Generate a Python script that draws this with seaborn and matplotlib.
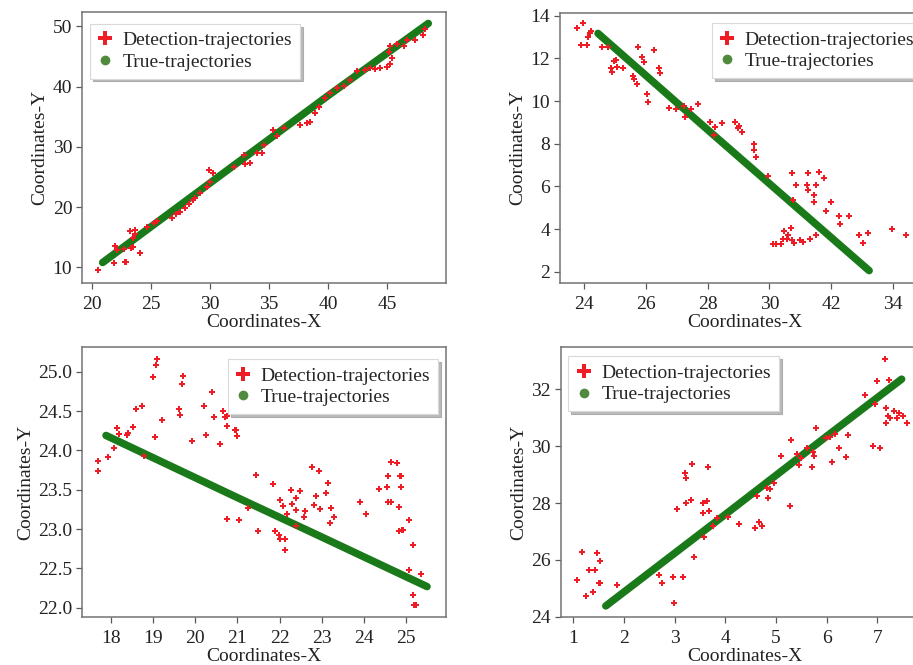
import numpy as np
import pandas as pd
import matplotlib
matplotlib.use("Agg")
import matplotlib.pyplot as plt
from matplotlib.lines import Line2D
import seaborn as sns

# ---------------- data ----------------
# Panel A (top-left)
a_det_x = [20.51, 21.84, 21.98, 22.12, 22.68, 22.77, 22.91, 23.25, 23.31, 23.48, 23.62, 23.67, 23.48, 24.04,
           24.66, 25.23, 25.51, 26.78, 27.15, 27.49, 27.85, 28.19, 28.56, 28.76, 29.18, 29.75, 29.89, 30.03,
           30.25, 32.01, 32.92, 33.00, 33.37, 33.98, 34.41, 34.55, 35.34, 35.68, 36.24, 37.66, 38.22, 38.50,
           38.93, 39.21, 39.77, 40.20, 40.76, 41.33, 41.89, 42.46, 43.16, 43.59, 44.01, 44.44, 45.00, 45.28,
           45.42, 45.14, 45.28, 45.85, 46.47, 46.69, 47.40, 48.05, 48.25]
a_det_y = [9.56, 10.67, 13.55, 12.88, 12.99, 10.94, 10.83, 16.04, 13.16, 14.82, 16.21, 15.48, 13.32, 12.33,
           16.76, 17.42, 17.70, 18.14, 18.81, 19.25, 19.81, 20.53, 21.19, 21.58, 22.30, 23.41, 26.18, 24.24,
           25.62, 26.73, 28.67, 27.18, 27.29, 28.95, 28.95, 30.33, 32.83, 31.83, 33.10, 33.60, 34.04, 34.21,
           35.60, 36.70, 38.09, 38.92, 39.75, 40.14, 41.14, 42.52, 42.80, 43.07, 42.91, 43.07, 43.35, 43.80,
           44.74, 45.84, 46.68, 47.12, 46.68, 47.67, 47.78, 48.61, 49.56]
a_true_x = [20.9, 30.0, 40.0, 48.5]
a_true_y = [10.8, 24.0, 38.5, 50.5]

# Panel B (top-right)
b_det_x = [23.76, 23.98, 23.89, 24.09, 24.12, 24.19, 24.23, 24.57, 24.78, 24.86, 24.91, 24.97, 25.03, 25.05,
           25.25, 25.57, 25.62, 25.70, 25.76, 25.86, 25.95, 26.03, 26.06, 26.27, 26.41, 26.46, 26.76, 26.97,
           27.23, 27.27, 27.46, 27.70, 28.07, 28.24, 28.20, 28.45, 28.88, 28.99, 29.02, 29.11, 29.50, 29.50,
           29.56, 29.96, 30.12, 30.21, 30.37, 30.44, 30.47, 30.58, 30.60, 30.70, 30.72, 30.74, 30.77, 30.80,
           30.85, 30.98, 31.09, 31.25, 31.23, 31.25, 31.33, 31.43, 31.46, 31.52, 31.50, 31.61, 31.77, 31.84,
           31.98, 32.25, 32.28, 32.58, 32.90, 33.03, 33.19, 33.98, 34.43]
b_det_y = [13.41, 13.67, 12.63, 12.63, 12.98, 13.17, 13.28, 12.55, 12.55, 11.56, 11.34, 11.88, 11.92, 11.61,
           11.56, 11.17, 11.03, 10.78, 12.55, 12.05, 11.84, 10.33, 9.97, 12.39, 11.53, 11.30, 9.69, 9.63,
           9.77, 9.27, 9.63, 9.86, 9.03, 8.80, 8.41, 8.98, 9.03, 8.72, 8.84, 8.56, 7.98, 7.70,
           7.39, 6.50, 3.28, 3.28, 3.28, 3.52, 3.91, 3.52, 3.72, 4.03, 3.48, 6.61, 5.36, 3.33,
           6.06, 3.48, 3.41, 6.64, 6.06, 5.83, 3.52, 5.59, 5.28, 6.06, 3.72, 6.66, 6.38, 4.84,
           5.25, 4.63, 4.23, 4.63, 3.72, 3.36, 3.80, 4.00, 3.72]
b_true_x = [24.45, 28.2, 33.23]
b_true_y = [13.17, 8.40, 2.05]
b_xticks = [24, 26, 28, 30, 32, 34]
b_xticklabels = ["24", "26", "28", "30", "42", "34"]

# Panel C (bottom-left)
c_det_x = [17.68, 17.70, 17.92, 18.08, 18.15, 18.20, 18.37, 18.41, 18.53, 18.59, 18.73, 18.77, 18.99, 19.05,
           19.07, 19.08, 19.20, 19.61, 19.64, 19.68, 19.71, 19.92, 20.20, 20.25, 20.39, 20.44, 20.58, 20.65,
           20.71, 20.76, 20.76, 20.76, 20.93, 20.97, 21.00, 21.03, 21.24, 21.43, 21.48, 21.84, 21.90, 22.01,
           21.99, 22.01, 22.07, 22.13, 22.13, 22.17, 22.26, 22.30, 22.38, 22.39, 22.40, 22.49, 22.57, 22.61,
           22.76, 22.82, 22.87, 22.93, 22.97, 23.10, 23.14, 23.20, 23.22, 23.30, 23.92, 24.06, 24.35, 24.56,
           24.57, 24.58, 24.64, 24.65, 24.78, 24.83, 24.84, 24.85, 24.87, 24.88, 24.90, 24.94, 25.07, 25.08,
           25.16, 25.17, 25.18, 25.23, 25.36]
c_det_y = [23.74, 23.87, 23.92, 24.03, 24.29, 24.21, 24.20, 24.22, 24.30, 24.52, 24.57, 23.93, 24.93, 24.17,
           25.09, 25.16, 24.39, 24.53, 24.45, 24.84, 24.94, 24.12, 24.56, 24.19, 24.74, 24.42, 24.08, 24.50,
           24.42, 24.44, 24.31, 23.13, 24.26, 24.26, 24.18, 23.12, 23.27, 23.69, 22.97, 23.57, 22.97, 23.37,
           22.92, 22.87, 23.30, 22.87, 22.73, 23.19, 23.50, 23.32, 23.40, 23.24, 23.04, 23.48, 23.16, 23.23,
           23.79, 23.31, 23.42, 23.74, 23.25, 23.46, 23.59, 23.08, 23.27, 23.16, 23.34, 23.19, 23.51, 23.54,
           23.35, 23.67, 23.35, 23.85, 23.84, 23.28, 22.98, 23.67, 23.54, 23.67, 22.99, 22.99, 23.11, 22.48,
           22.80, 22.16, 22.03, 22.03, 22.43]
c_true_x = [17.88, 21.0, 23.0, 25.50]
c_true_y = [24.19, 23.40, 22.90, 22.27]

# Panel D (bottom-right)
d_det_x = [1.08, 1.18, 1.25, 1.30, 1.39, 1.42, 1.46, 1.50, 1.53, 1.53, 1.86, 2.69, 2.74, 2.97, 2.99, 3.05,
           3.16, 3.20, 3.22, 3.22, 3.32, 3.34, 3.38, 3.55, 3.55, 3.57, 3.63, 3.65, 3.68, 3.76, 3.84, 4.06,
           4.26, 4.59, 4.63, 4.67, 4.73, 4.82, 4.84, 4.88, 4.97, 5.09, 5.28, 5.30, 5.41, 5.45, 5.49, 5.61,
           5.71, 5.74, 5.75, 5.79, 5.99, 6.07, 6.11, 6.17, 6.24, 6.38, 6.43, 6.76, 6.92, 6.95, 7.00, 7.05,
           7.16, 7.17, 7.18, 7.22, 7.24, 7.26, 7.33, 7.38, 7.43, 7.51, 7.58]
d_det_y = [25.30, 26.28, 24.74, 25.64, 24.87, 25.64, 26.25, 25.20, 25.97, 25.18, 25.11, 25.47, 25.20, 25.40,
           24.47, 27.79, 25.40, 29.04, 28.89, 27.99, 28.11, 29.36, 26.10, 27.99, 27.66, 26.82, 28.07, 29.28,
           27.72, 27.19, 27.48, 27.50, 27.25, 27.13, 28.25, 27.35, 27.21, 28.52, 28.19, 28.51, 28.71, 29.67,
           27.91, 30.21, 29.72, 29.34, 29.60, 29.92, 29.28, 29.80, 29.65, 30.63, 30.28, 30.31, 29.44, 30.43,
           29.92, 29.63, 30.38, 31.79, 30.01, 31.48, 32.29, 29.92, 33.07, 31.35, 30.80, 31.06, 32.33, 30.98,
           31.25, 30.99, 31.18, 31.06, 30.80]
d_true_x = [1.64, 4.0, 6.0, 7.48]
d_true_y = [24.38, 27.6, 30.35, 32.36]

# ---------------- style ----------------
sns.set_theme(style="ticks")
plt.rcParams["font.family"] = ["Liberation Serif", "DejaVu Serif"]

DET_COLOR = "#ee1c25"
TRUE_COLOR = "#1a7a1a"
LEG_TRUE = "#4f8a3f"
FS = 14

W, H = 913, 665
fig = plt.figure(figsize=(W / 100, H / 100), dpi=100)


def add_axes(left_px, top_px, right_px, bottom_px):
    return fig.add_axes([left_px / W, 1 - bottom_px / H, (right_px - left_px) / W, (bottom_px - top_px) / H])


panels = [
    (a_det_x, a_det_y, a_true_x, a_true_y, (82, 12, 446, 283), (19.15, 50.0), (7.4, 52.4),
     [20, 25, 30, 35, 40, 45], [10, 20, 30, 40, 50], "upper left", (0.0, 0.985)),
    (b_det_x, b_det_y, b_true_x, b_true_y, (560, 12.7, 930, 283), (23.22, 35.2), (1.47, 14.14),
     b_xticks, [2, 4, 6, 8, 10, 12, 14], "upper right", (1.0, 0.99)),
    (c_det_x, c_det_y, c_true_x, c_true_y, (82, 347.3, 446, 617.3), (17.31, 25.95), (21.88, 25.31),
     [18, 19, 20, 21, 22, 23, 24, 25], [22.0, 22.5, 23.0, 23.5, 24.0, 24.5, 25.0], "upper right", (1.0, 0.985)),
    (d_det_x, d_det_y, d_true_x, d_true_y, (560.7, 347.3, 930, 617.3), (0.75, 8.04), (23.98, 33.48),
     [1, 2, 3, 4, 5, 6, 7], [24, 26, 28, 30, 32], "upper left", (0.0, 0.995)),
]

for i, (dx, dy, tx, ty, box, xl, yl, xt, yt, loc, anchor) in enumerate(panels):
    ax = add_axes(*box)
    det = pd.DataFrame({"x": dx, "y": dy})
    tru = pd.DataFrame({"x": tx, "y": ty})
    sns.lineplot(data=tru, x="x", y="y", ax=ax, color=TRUE_COLOR, linewidth=5.4,
                 solid_capstyle="round", legend=False, zorder=2)
    sns.scatterplot(data=det, x="x", y="y", ax=ax, color=DET_COLOR, marker="P", s=15,
                    linewidth=0, legend=False, zorder=3)
    ax.set_xlim(*xl)
    ax.set_ylim(*yl)
    ax.set_xticks(xt)
    ax.set_yticks(yt)
    if i == 1:
        ax.set_xticklabels(b_xticklabels)
    elif i == 2:
        ax.set_yticklabels([f"{v:.1f}" for v in yt])
    ax.tick_params(axis="x", pad=5)
    ax.tick_params(axis="y", pad=3)
    ax.tick_params(axis="both", labelsize=FS, direction="out", length=4, width=0.9,
                   color="0.35", labelcolor="#222222")
    ax.set_xlabel("Coordinates-X", fontsize=FS, labelpad=1, color="#222222")
    ax.set_ylabel("Coordinates-Y", fontsize=FS, labelpad=3, color="#222222")
    for sp in ax.spines.values():
        sp.set_visible(True)
        sp.set_color("0.45")
        sp.set_linewidth(1.1)
    handles = [
        Line2D([], [], linestyle="none", marker="P", color=DET_COLOR, markersize=10,
               markeredgewidth=0, label="Detection-trajectories"),
        Line2D([], [], linestyle="none", marker="o", color=LEG_TRUE, markersize=7,
               markeredgewidth=0, label="True-trajectories"),
    ]
    leg = ax.legend(handles=handles, loc=loc, bbox_to_anchor=anchor, fontsize=FS,
                    frameon=True, fancybox=False, shadow={"color": "0.55", "alpha": 0.6},
                    handlelength=0.8, handletextpad=0.5, borderpad=0.4, labelspacing=0.2,
                    borderaxespad=0.4)
    leg.get_frame().set_edgecolor("0.85")
    leg.get_frame().set_linewidth(0.8)
    leg.get_frame().set_alpha(1.0)

fig.savefig("out.png", dpi=100, facecolor="white")
